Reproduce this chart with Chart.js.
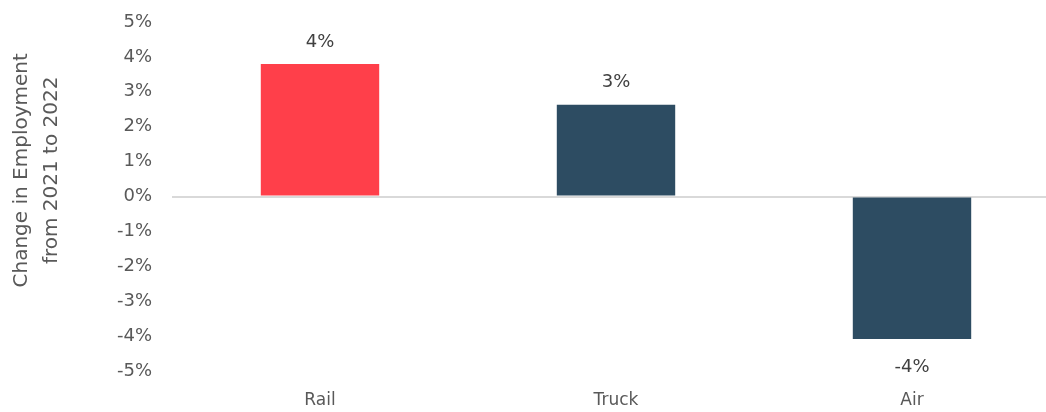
<!DOCTYPE html>
<html>
<head>
<meta charset="utf-8">
<script src="https://cdn.jsdelivr.net/npm/chart.js@4/dist/chart.umd.min.js"></script>
<style>
  html, body { margin: 0; padding: 0; background: #fff; overflow: hidden; }
  #wrap { width: 1062px; height: 412px; }
</style>
</head>
<body>
<div id="wrap"><canvas id="chart"></canvas></div>
<script>
// employment change by mode, 2021 -> 2022 (percent)
const modes = ['Rail', 'Truck', 'Air'];
const changePct = [3.8, 2.63, -4.08];
const barColors = ['#FF3F4A', '#2D4C62', '#2D4C62'];
const yTicks = [-5, -4, -3, -2, -1, 0, 1, 2, 3, 4, 5];
const yTitle = ['Change in Employment', 'from 2021 to 2022'];

const FONT = "'DejaVu Sans', sans-serif";
const TEXT = '#595959';

// value labels above positive bars, below negative ones
const barLabels = {
  id: 'barLabels',
  afterDatasetsDraw(chart) {
    const ctx = chart.ctx;
    const meta = chart.getDatasetMeta(0);
    ctx.save();
    ctx.font = '18px ' + FONT;
    ctx.fillStyle = '#404040';
    ctx.textAlign = 'center';
    ctx.textBaseline = 'middle';
    meta.data.forEach((bar, i) => {
      const v = changePct[i];
      const y = v >= 0 ? bar.y - 22 : bar.y + 28;
      ctx.fillText(Math.round(v) + '%', bar.x, y);
    });
    ctx.restore();
  }
};

// rotated two-line axis title, sitting a bit above the plot's middle
const axisTitle = {
  id: 'axisTitle',
  afterDraw(chart) {
    const ctx = chart.ctx;
    const area = chart.chartArea;
    ctx.save();
    ctx.translate(22, area.top + (area.bottom - area.top) * 0.425);
    ctx.rotate(-Math.PI / 2);
    ctx.font = '20px ' + FONT;
    ctx.fillStyle = TEXT;
    ctx.textAlign = 'center';
    ctx.textBaseline = 'middle';
    yTitle.forEach((line, i) => ctx.fillText(line, 0, i * 30));
    ctx.restore();
  }
};

new Chart(document.getElementById('chart'), {
  type: 'bar',
  data: {
    labels: modes,
    datasets: [{
      data: changePct,
      backgroundColor: barColors,
      borderWidth: 0,
      categoryPercentage: 1,
      barPercentage: 0.4
    }]
  },
  options: {
    responsive: true,
    maintainAspectRatio: false,
    animation: false,
    layout: { padding: { top: 22, right: 2 } },
    plugins: { legend: { display: false }, tooltip: { enabled: false } },
    scales: {
      x: {
        grid: { display: false },
        border: { display: false },
        ticks: { color: TEXT, font: { family: FONT, size: 17 }, padding: 11 },
        afterFit(scale) { scale.height = 41; }
      },
      y: {
        min: -5,
        max: 5,
        afterBuildTicks(scale) { scale.ticks = yTicks.map(v => ({ value: v })); },
        border: { display: false },
        grid: {
          drawTicks: false,
          lineWidth: ctx => (ctx.tick && ctx.tick.value === 0 ? 2 : 0),
          color: '#D9D9D9'
        },
        ticks: {
          color: TEXT,
          font: { family: FONT, size: 18 },
          padding: 20,
          callback: v => v + '%'
        },
        afterFit(scale) {
          scale.width = 172;
          // tick padding would otherwise push the plot down
          scale.paddingTop = 0;
          scale.paddingBottom = 0;
        }
      }
    }
  },
  plugins: [barLabels, axisTitle]
});
</script>
</body>
</html>
